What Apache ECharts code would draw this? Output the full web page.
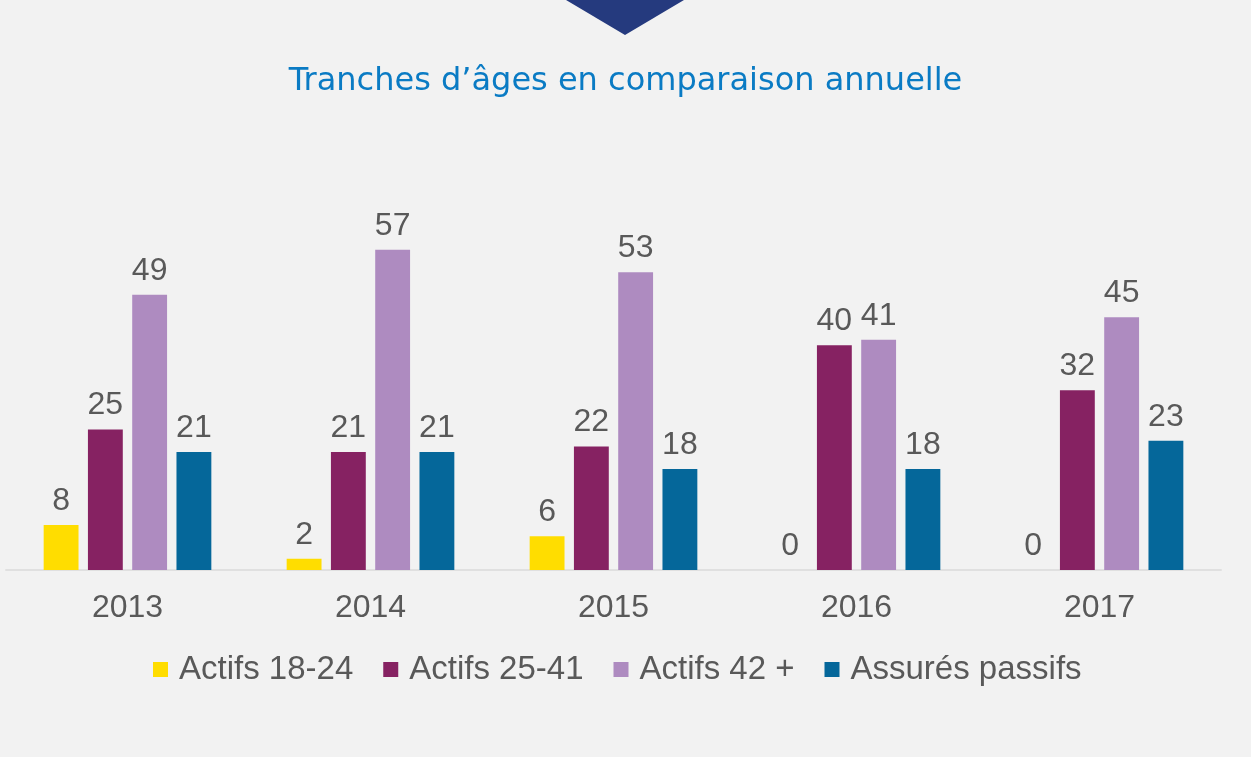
<!DOCTYPE html>
<html>
<head>
<meta charset="utf-8">
<script src="https://cdn.jsdelivr.net/npm/echarts@6/dist/echarts.min.js"></script>
<style>
  html, body { margin: 0; padding: 0; background: #f2f2f2; }
  #chart { width: 1251px; height: 757px; }
</style>
</head>
<body>
<div id="chart"></div>
<script>
const years = ['2013', '2014', '2015', '2016', '2017']
const actifs1824 = [8, 2, 6, 0, 0]
const actifs2541 = [25, 21, 22, 40, 32]
const actifs42 = [49, 57, 53, 41, 45]
const passifs = [21, 21, 18, 18, 23]

const names = ['Actifs 18-24', 'Actifs 25-41', 'Actifs 42 +', 'Assurés passifs']
const colors = ['#ffdd00', '#862262', '#ae8bc0', '#05679a']
const values = [actifs1824, actifs2541, actifs42, passifs]

let chart = echarts.init(document.getElementById('chart'))
let option = {
  backgroundColor: '#f2f2f2',
  textStyle: { fontFamily: 'Liberation Sans, Arial, sans-serif' },
  title: {
    text: 'Tranches d\u2019âges en comparaison annuelle',
    left: 'center',
    top: 61,
    textStyle: {
      color: '#0a7bc4',
      fontFamily: 'DejaVu Sans',
      fontSize: 32,
      fontWeight: 'normal'
    }
  },
  graphic: [{
    type: 'polygon',
    shape: { points: [[566, 0], [684, 0], [625, 35]] },
    style: { fill: '#253a7e' }
  }],
  legend: {
    bottom: 66,
    left: 148,
    itemWidth: 15,
    itemHeight: 15,
    itemGap: 30,
    icon: 'rect',
    textStyle: { color: '#595959', fontSize: 33, padding: [0, 0, 0, 6] },
    data: names
  },
  grid: { left: 6, right: 30, top: 233, bottom: 187 },
  xAxis: {
    type: 'category',
    data: years,
    axisLine: { lineStyle: { color: '#e0e0e0', width: 2 } },
    axisTick: { show: false },
    axisLabel: { color: '#595959', fontSize: 32, margin: 22 }
  },
  yAxis: { type: 'value', min: 0, max: 60, show: false, splitLine: { show: false } },
  series: []
}
option.series = values.map((v, i) => ({
  name: names[i],
  type: 'bar',
  data: v,
  barGap: '27%',
  barCategoryGap: '31%',
  itemStyle: { color: colors[i] },
  label: { show: true, position: 'top', distance: 8, color: '#595959', fontSize: 32 }
}))
chart.setOption(option)
</script>
</body>
</html>
